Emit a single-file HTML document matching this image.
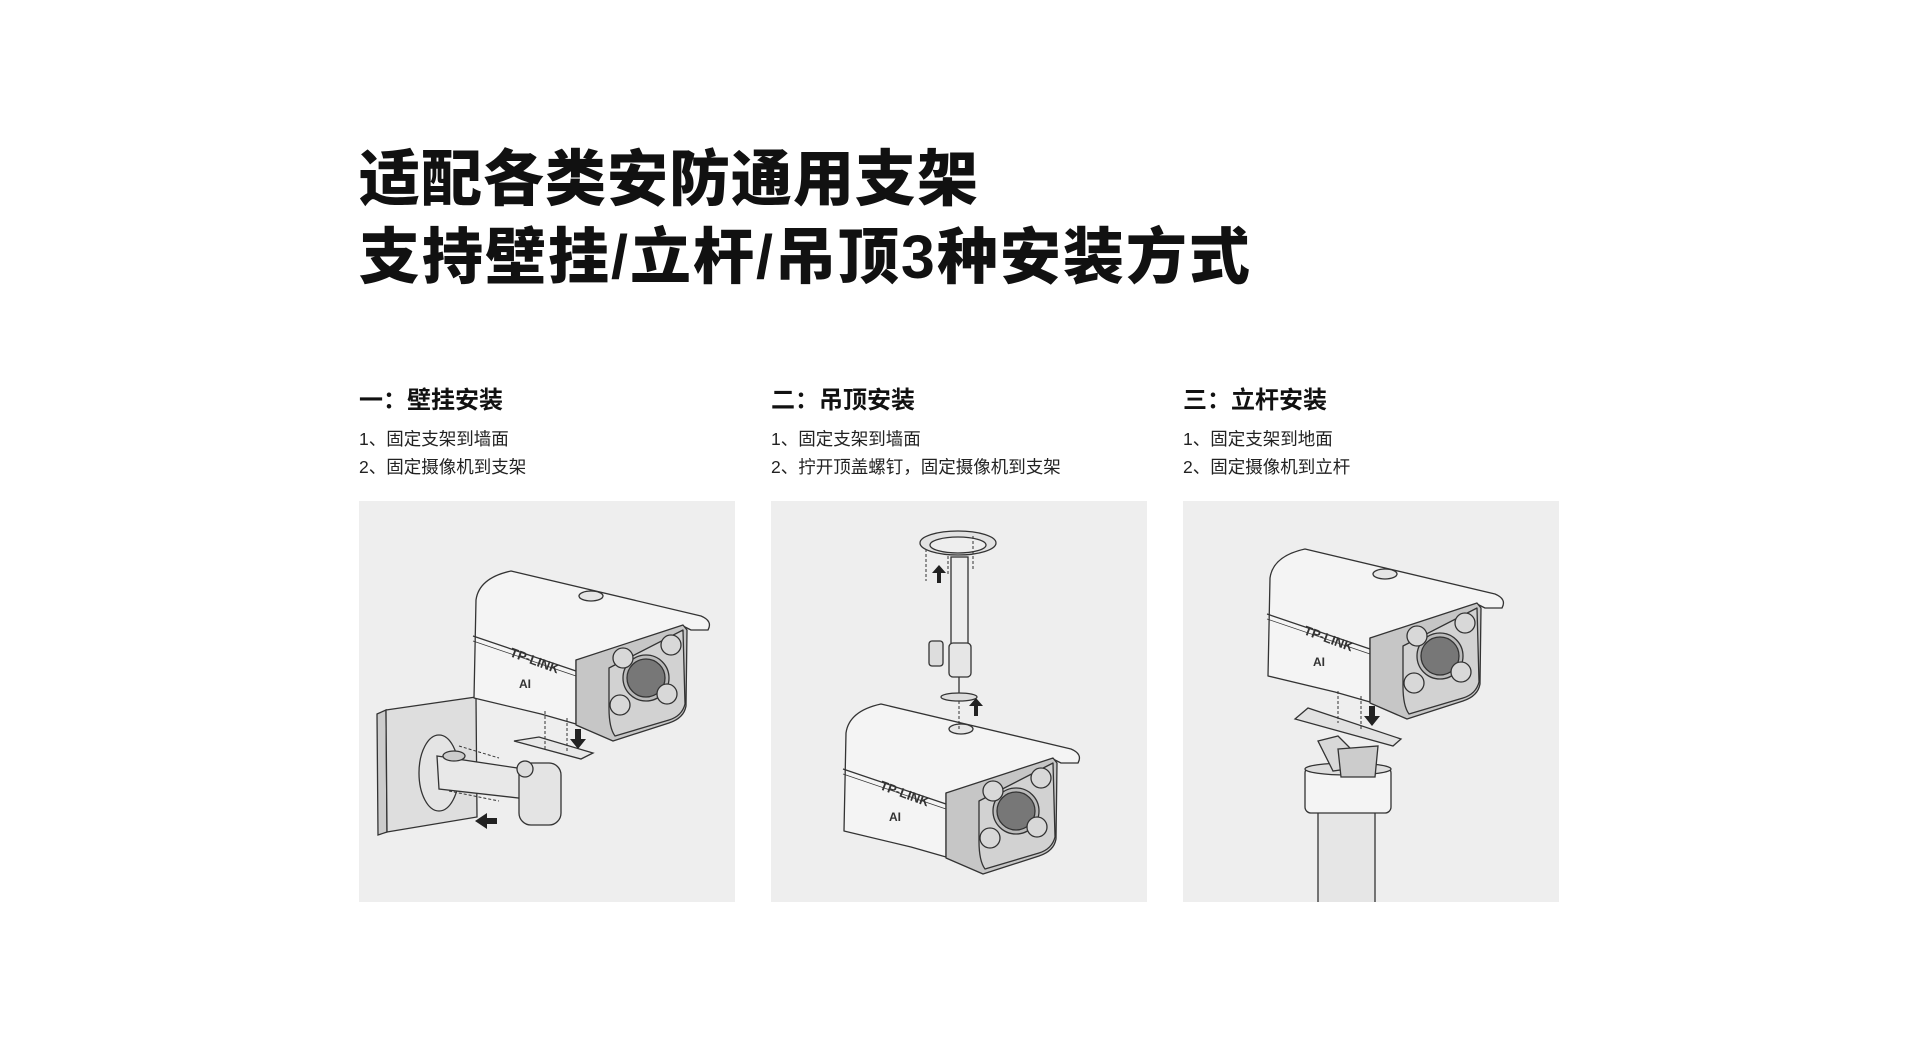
<!DOCTYPE html>
<html><head><meta charset="utf-8"><style>
body{margin:0;width:1920px;height:1041px;background:#fff;position:relative;overflow:hidden;font-family:"Liberation Sans","Noto Sans CJK SC",sans-serif;color:#111}
.t{position:absolute;left:359px;font-weight:900;font-size:61px;line-height:1;white-space:nowrap}
.h{position:absolute;font-weight:700;font-size:24px;white-space:nowrap}
.l{position:absolute;font-size:17.5px;white-space:nowrap;color:#222}
.p{position:absolute;top:501px;width:376px;height:401px;background:#eeeeee}
svg{position:absolute;left:0;top:0}
</style></head><body>
<div class="t" style="top:149px;letter-spacing:1px">适配各类安防通用支架</div>
<div class="t" style="top:227px;letter-spacing:2px">支持壁挂/立杆/吊顶3种安装方式</div>

<div class="h" style="left:359px;top:380px">一：壁挂安装</div>
<div class="l" style="left:359px;top:426px">1、固定支架到墙面</div>
<div class="l" style="left:359px;top:454px">2、固定摄像机到支架</div>
<div class="h" style="left:771px;top:380px">二：吊顶安装</div>
<div class="l" style="left:771px;top:426px">1、固定支架到墙面</div>
<div class="l" style="left:771px;top:454px">2、拧开顶盖螺钉，固定摄像机到支架</div>
<div class="h" style="left:1183px;top:380px">三：立杆安装</div>
<div class="l" style="left:1183px;top:426px">1、固定支架到地面</div>
<div class="l" style="left:1183px;top:454px">2、固定摄像机到立杆</div>

<svg width="0" height="0" style="position:absolute">
<defs>
<g id="cam" stroke="#333" stroke-width="1.3" stroke-linejoin="round">
<path d="M75,232 Q78,210 110,203 L300,248 Q312,253 307,262 L290,262 L282,258 L210,290 L175,292 L175,356 L140,346 L73,330 Z" fill="#f4f4f4"/>
<path d="M72,268 L175,303" fill="none"/>
<path d="M72,273 L175,308" fill="none" stroke-width="0.7"/>
<ellipse cx="190" cy="228" rx="12" ry="5" fill="#e6e6e6"/>
<path d="M175,292 L282,257 L286,262 L285,338 Q283,350 268,355 L212,373 L175,357 Z" fill="#c6c6c6"/>
<path d="M208,300 L282,262 L284,336 Q281,348 268,352 L214,368 Q208,360 208,340 Z" fill="#d2d2d2"/>
<circle cx="245" cy="310" r="23" fill="#bbb"/>
<circle cx="245" cy="310" r="19" fill="#777"/>
<circle cx="222" cy="290" r="10" fill="#d8d8d8"/>
<circle cx="270" cy="277" r="10" fill="#d8d8d8"/>
<circle cx="219" cy="337" r="10" fill="#d8d8d8"/>
<circle cx="266" cy="326" r="10" fill="#d8d8d8"/>
<text x="108" y="288" transform="rotate(20 108 288)" font-family="Liberation Sans" font-weight="700" font-size="13" fill="#333" stroke="none">TP-LINK</text>
<text x="118" y="320" font-family="Liberation Sans" font-weight="700" font-size="12" fill="#333" stroke="none">AI</text>
</g>
</defs></svg>

<div class="p" style="left:359px">
<svg width="376" height="401" viewBox="0 0 376 401">
<g stroke="#333" stroke-width="1.3">
<polygon points="18,213 27,209 28,331 19,334" fill="#ccc"/>
<polygon points="27,209 117,196 118,316 28,331" fill="#dedede"/>
<ellipse cx="80" cy="272" rx="20" ry="38" fill="#e4e4e4"/>
<polygon points="78,255 165,268 168,298 80,288" fill="#e8e8e8"/>
<ellipse cx="95" cy="255" rx="11" ry="5" fill="#ccc"/>
<polygon points="155,240 180,236 234,252 222,258" fill="#e8e8e8"/>
<rect x="160" y="262" width="42" height="62" rx="12" fill="#e4e4e4"/>
<circle cx="166" cy="268" r="8" fill="#ddd"/>
</g>
<use href="#cam" transform="translate(42,-133)"/>
<g stroke="#333" stroke-dasharray="3,2" fill="none"><line x1="186" y1="210" x2="186" y2="250"/><line x1="208" y1="217" x2="208" y2="252"/><line x1="100" y1="245" x2="140" y2="257"/><line x1="90" y1="290" x2="140" y2="300"/></g>
<path d="M216,228 h6 v10 h5 l-8,10 l-8,-10 h5z" fill="#222"/>
<path d="M128,317 v-5 l-12,8 l12,8 v-5 h10 v-6z" fill="#222"/>
</svg></div>

<div class="p" style="left:771px">
<svg width="376" height="401" viewBox="0 0 376 401">
<g stroke="#333" stroke-width="1.3">
<ellipse cx="187" cy="42" rx="38" ry="12" fill="#e2e2e2"/>
<ellipse cx="187" cy="44" rx="28" ry="8" fill="#eee"/>
<rect x="180" y="56" width="17" height="90" fill="#eee"/>
<rect x="158" y="140" width="14" height="25" rx="3" fill="#ddd"/>
<rect x="178" y="142" width="22" height="34" rx="4" fill="#e6e6e6"/>
<line x1="188" y1="176" x2="188" y2="195"/>
<ellipse cx="188" cy="196" rx="18" ry="4" fill="#ddd"/>
</g>
<use href="#cam"/>
<g stroke="#333" stroke-dasharray="3,2" fill="none"><line x1="155" y1="48" x2="155" y2="80"/><line x1="177" y1="55" x2="177" y2="75"/><line x1="202" y1="35" x2="202" y2="70"/><line x1="188" y1="200" x2="188" y2="228"/></g>
<path d="M166,82 v-10 h-5 l7,-8 l7,8 h-5 v10z M203,215 v-10 h-5 l7,-8 l7,8 h-5 v10z" fill="#222"/>
</svg></div>

<div class="p" style="left:1183px">
<svg width="376" height="401" viewBox="0 0 376 401">
<g stroke="#333" stroke-width="1.3">
<rect x="135" y="308" width="57" height="100" fill="#e6e6e6"/>
<rect x="122" y="266" width="86" height="46" rx="6" fill="#f4f4f4"/>
<ellipse cx="165" cy="268" rx="43" ry="6" fill="#ddd"/>
<polygon points="135,240 155,235 185,265 150,270" fill="#d8d8d8"/>
<polygon points="112,218 125,207 218,238 210,245" fill="#e2e2e2"/>
<polygon points="155,248 195,245 192,276 158,276" fill="#ccc"/>
</g>
<use href="#cam" transform="translate(12,-155)"/>
<g stroke="#333" stroke-dasharray="3,2" fill="none"><line x1="155" y1="190" x2="155" y2="222"/><line x1="178" y1="195" x2="178" y2="228"/></g>
<path d="M186,205 h6 v10 h5 l-8,10 l-8,-10 h5z" fill="#222"/>
</svg></div>
</body></html>
